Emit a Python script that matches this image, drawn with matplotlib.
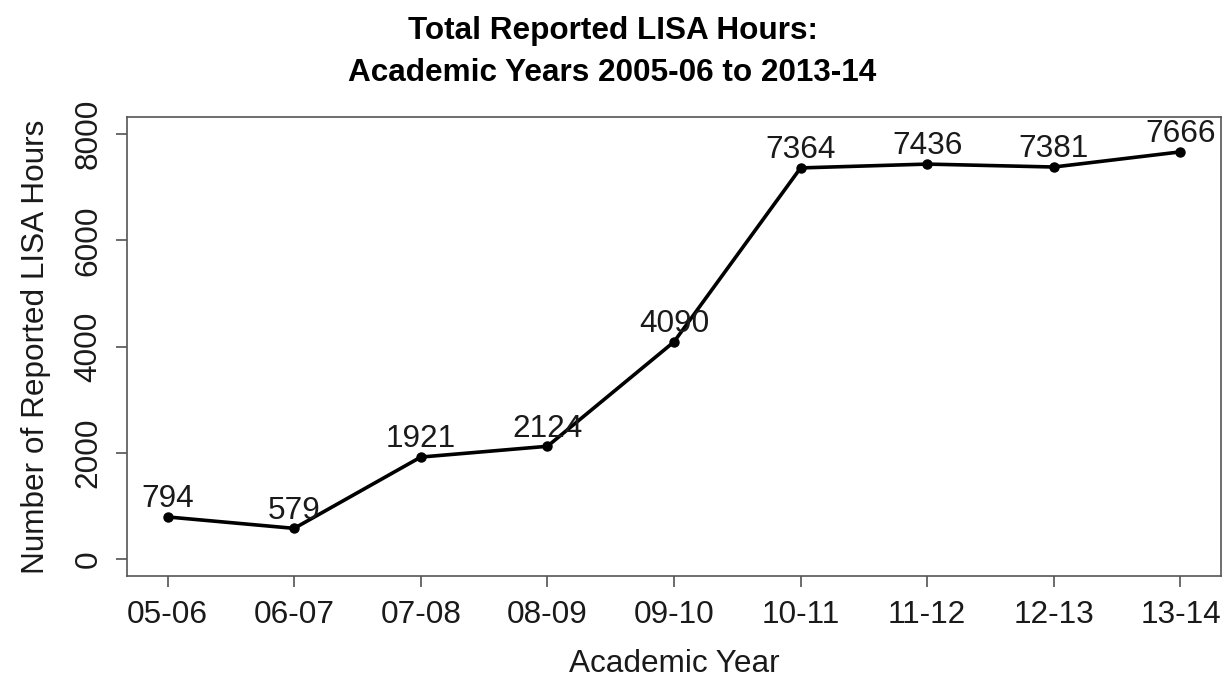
import matplotlib
matplotlib.use('Agg')
import matplotlib.pyplot as plt

plt.rcParams['font.family'] = ['Liberation Sans', 'DejaVu Sans']

years = ['05-06', '06-07', '07-08', '08-09', '09-10', '10-11', '11-12', '12-13', '13-14']
hours = [794, 579, 1921, 2124, 4090, 7364, 7436, 7381, 7666]
yticks = [0, 2000, 4000, 6000, 8000]

fs = 22.7
fig = plt.figure(figsize=(12.25, 6.81), dpi=100)
ax = fig.add_axes([0.1037, 0.154, 0.893, 0.674])

x = list(range(len(years)))
ax.plot(x, hours, color='black', lw=2.6, marker='o', ms=6.5)

# labels above the points
for xi, h in zip(x, hours):
    ax.annotate(str(h), (xi, h), xytext=(0, 2), textcoords='offset points',
                ha='center', va='bottom', fontsize=fs, color='#1a1a1a')

ax.set_xlim(-0.32, 8.32)
ax.set_ylim(-320, 8320)
ax.set_xticks(x)
ax.set_xticklabels(years, fontsize=fs, color='#1a1a1a')
ax.set_yticks(yticks)
ax.set_yticklabels([str(t) for t in yticks], fontsize=fs, rotation=90,
                   va='center', color='#1a1a1a')
ax.tick_params(axis='both', direction='out', length=8, width=1.1, color='#444444', pad=9)

for s in ax.spines.values():
    s.set_color('#555555')
    s.set_linewidth(1.2)

ax.set_xlabel('Academic Year', fontsize=fs, labelpad=14, color='#1a1a1a')
ax.set_ylabel('Number of Reported LISA Hours', fontsize=fs, labelpad=16, color='#1a1a1a')

fig.text(0.5, 0.955, 'Total Reported LISA Hours:', ha='center', va='center',
         fontsize=fs, fontweight='bold')
fig.text(0.5, 0.893, 'Academic Years 2005-06 to 2013-14', ha='center', va='center',
         fontsize=fs, fontweight='bold')

fig.savefig('out.png', dpi=100)
